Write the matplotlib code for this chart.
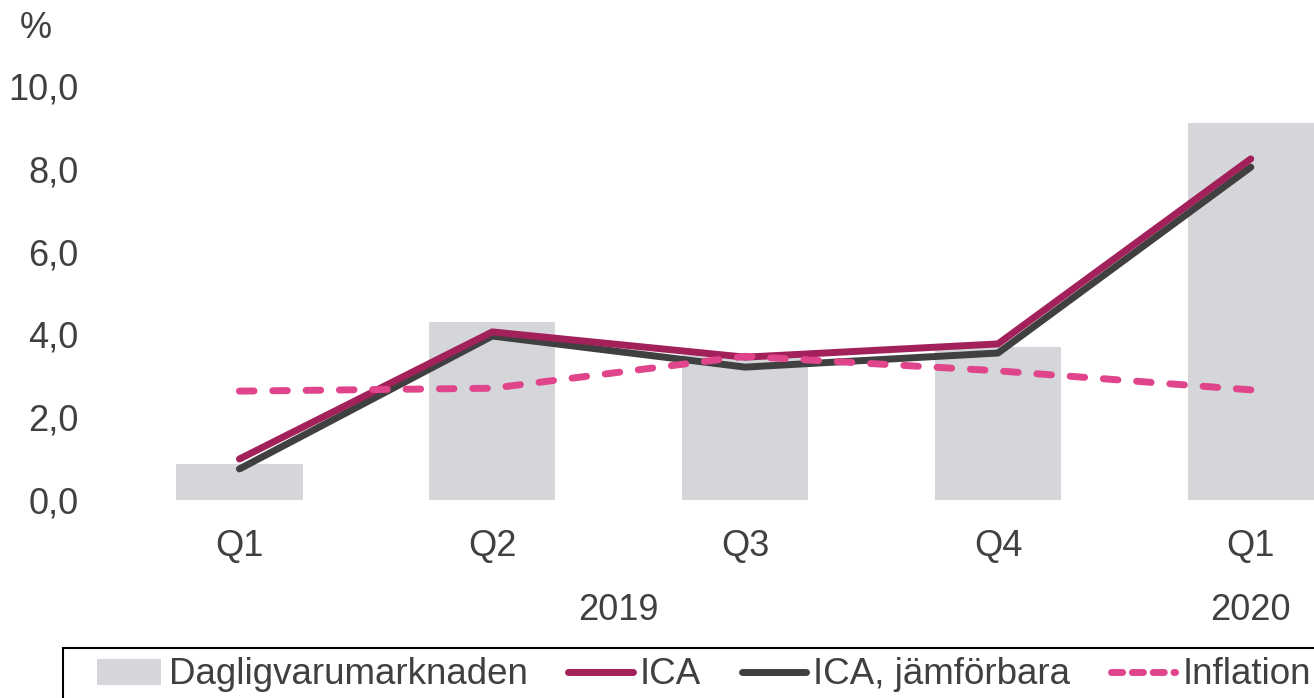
import matplotlib
matplotlib.use("Agg")
import matplotlib.pyplot as plt
from matplotlib.lines import Line2D
from matplotlib.patches import Patch, Rectangle
import numpy as np

plt.rcParams["font.family"] = ["Liberation Sans", "DejaVu Sans"]
TXT = "#404040"

quarters = ["Q1", "Q2", "Q3", "Q4", "Q1"]
years = ["2019", "2020"]
dagligvaru = [0.87, 4.3, 3.5, 3.7, 9.1]
ica = [0.99, 4.06, 3.45, 3.77, 8.24]
ica_jmf = [0.75, 3.96, 3.21, 3.55, 8.04]
inflation = [2.63, 2.70, 3.47, 3.12, 2.66]

GREY_BAR = "#D5D6DA"
MAROON = "#A3215A"
DARK = "#404040"
PINK = "#E0458C"
DASH = (0, (2.1, 2.7))

fig = plt.figure(figsize=(13.14, 6.98), dpi=100)
ax = fig.add_axes([113 / 1314, 1 - 500 / 698, 1 - 113 / 1314, (500 - 86) / 698])
x = np.arange(len(quarters))

ax.bar(x, dagligvaru, 0.5, color=GREY_BAR, zorder=1)
ax.plot(x, ica, color=MAROON, lw=5, solid_capstyle="round", zorder=3)
ax.plot(x, ica_jmf, color=DARK, lw=5, solid_capstyle="round", zorder=2)
ax.plot(x, inflation, color=PINK, lw=5, ls=DASH, dash_capstyle="round", zorder=4)

ax.set_xlim(-0.5, 4.25)
ax.set_ylim(0, 10)
ax.set_yticks(np.arange(0, 11, 2))
ax.set_yticklabels([f"{v:.1f}".replace(".", ",") for v in np.arange(0, 11, 2)])
ax.set_xticks(x)
ax.set_xticklabels(quarters)
ax.tick_params(axis="both", length=0, labelsize=26, labelcolor=TXT)
ax.tick_params(axis="y", pad=25)
ax.tick_params(axis="x", pad=21)
for s in ax.spines.values():
    s.set_visible(False)

trans = ax.get_xaxis_transform()
ax.text(1.5, -0.266, years[0], transform=trans, ha="center", va="center",
        fontsize=26, color=TXT)
ax.text(4.0, -0.266, years[1], transform=trans, ha="center", va="center",
        fontsize=26, color=TXT)
fig.text(36 / 1314, 1 - 28 / 698, "%", ha="center", va="center", fontsize=26, color=TXT)

# legend frame, running off the bottom/right edge like the original
fig.patches.append(Rectangle((63 / 1314, -0.05), 1.0, 1 - 648 / 698 + 0.05,
                             transform=fig.transFigure, facecolor="none",
                             edgecolor="#000000", lw=1.5))

handles = [
    Patch(facecolor=GREY_BAR, edgecolor="none"),
    Line2D([], [], color=MAROON, lw=5, solid_capstyle="round"),
    Line2D([], [], color=DARK, lw=5, solid_capstyle="round"),
    Line2D([], [], color=PINK, lw=5, ls=(0, (1.6, 1.4)), dash_capstyle="round"),
]
labels = ["Dagligvarumarknaden", "ICA", "ICA, jämförbara", "Inflation"]
leg = fig.legend(handles, labels, loc="center left",
                 bbox_to_anchor=(97 / 1314, 1 - 675 / 698),
                 ncol=4, fontsize=26.5, frameon=False, borderaxespad=0, borderpad=0,
                 handlelength=1.75, handletextpad=0.2, columnspacing=1.1)
for t in leg.get_texts():
    t.set_color(TXT)

fig.savefig("out.png", dpi=100)
